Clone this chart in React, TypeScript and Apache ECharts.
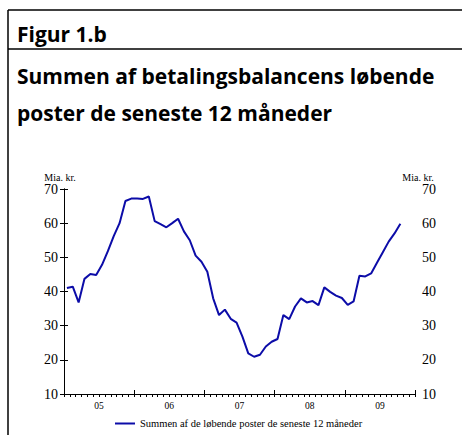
import React, { useEffect, useRef } from "react";
import * as echarts from "echarts";

const yearLabels = ["05", "06", "07", "08", "09"];
const monthCount = 60;
// Monthly values Jan 2005 - Oct 2009 (mia. kr.)
const values = [
  41.0, 41.4, 36.8, 43.7, 45.1, 44.8, 47.8, 51.8, 56.2, 60.0, 66.5, 67.2,
  67.2, 67.1, 67.8, 60.6, 59.7, 58.8, 60.0, 61.3, 57.6, 55.0, 50.5, 48.7,
  45.8, 38.0, 33.1, 34.7, 32.0, 30.9, 26.8, 21.9, 20.9, 21.5, 23.9, 25.3,
  26.1, 33.1, 31.9, 35.6, 38.0, 36.8, 37.2, 36.0, 41.2, 39.9, 38.8, 38.1,
  36.1, 37.1, 44.6, 44.4, 45.3, 48.4, 51.5, 54.6, 57.0, 59.8,
];
const seriesName = "Summen af de løbende poster de seneste 12 måneder";
const unitLabel = "Mia. kr.";
const figLabel = "Figur 1.b";
const titleLines = ["Summen af betalingsbalancens løbende", "poster de seneste 12 måneder"];

export default function App() {
  const ref = useRef<HTMLDivElement>(null);
  useEffect(() => {
    if (!ref.current) return;
    const chart = echarts.init(ref.current, null, { renderer: "svg" });
    const serif = "Liberation Serif";
    const sans = "Open Sans";
    const lineColor = "#0c0ca8";
    const axisBase = {
      min: 0,
      max: monthCount,
      type: "value" as const,
      splitLine: { show: false },
      axisLabel: { show: false },
    };
    chart.setOption({
      animation: false,
      backgroundColor: "#fff",
      grid: { left: 64, right: 47, top: 189, bottom: 41, containLabel: false },
      xAxis: [
        {
          ...axisBase,
          position: "bottom",
          interval: 12,
          axisLine: { show: true, onZero: false, lineStyle: { color: "#000", width: 1 } },
          axisTick: { show: true, inside: true, length: 4, lineStyle: { color: "#000" } },
        },
        {
          ...axisBase,
          position: "bottom",
          interval: 1,
          axisLine: { show: false, onZero: false },
          axisTick: { show: true, inside: false, length: 3, lineStyle: { color: "#000" } },
        },
        {
          type: "category",
          position: "bottom",
          data: yearLabels,
          boundaryGap: true,
          axisLine: { show: false, onZero: false },
          axisTick: { show: false },
          splitLine: { show: false },
          axisLabel: { color: "#000", fontFamily: serif, fontSize: 9.5, margin: 7 },
        },
      ],
      yAxis: [
        {
          type: "value",
          position: "left",
          min: 10,
          max: 70,
          interval: 10,
          axisLine: { show: true, lineStyle: { color: "#000", width: 1 } },
          axisTick: { show: true, inside: false, length: 4, lineStyle: { color: "#000" } },
          splitLine: { show: false },
          axisLabel: { color: "#000", fontFamily: serif, fontSize: 14, margin: 6 },
        },
        {
          type: "value",
          position: "right",
          min: 10,
          max: 70,
          interval: 10,
          axisLine: { show: true, lineStyle: { color: "#000", width: 1 } },
          axisTick: { show: true, inside: false, length: 4, lineStyle: { color: "#000" } },
          splitLine: { show: false },
          axisLabel: { color: "#000", fontFamily: serif, fontSize: 14, margin: 7 },
        },
      ],
      legend: {
        show: true,
        left: 110,
        top: 413,
        itemWidth: 20,
        itemHeight: 2,
        itemGap: 6,
        icon: "rect",
        textStyle: { color: "#000", fontFamily: serif, fontSize: 10.5 },
        data: [seriesName],
      },
      series: [
        {
          name: seriesName,
          type: "line",
          xAxisIndex: 0,
          yAxisIndex: 0,
          showSymbol: false,
          symbol: "none",
          lineStyle: { color: lineColor, width: 2 },
          itemStyle: { color: lineColor },
          data: values.map((v, i) => [i + 0.5, v]),
        },
      ],
      graphic: [
        { type: "line", shape: { x1: 8, y1: 10, x2: 462, y2: 10 }, style: { stroke: "#000", lineWidth: 1.5 } },
        { type: "line", shape: { x1: 8, y1: 10, x2: 8, y2: 435 }, style: { stroke: "#000", lineWidth: 1.5 } },
        { type: "line", shape: { x1: 8, y1: 49, x2: 462, y2: 49 }, style: { stroke: "#000", lineWidth: 1.5 } },
        {
          type: "text", x: 17, y: 34,
          style: { text: figLabel, fill: "#000", font: `bold 21px '${sans}'`, verticalAlign: "middle" },
        },
        {
          type: "text", x: 17, y: 76,
          style: { text: titleLines[0], fill: "#000", font: `bold 21px '${sans}'`, verticalAlign: "middle" },
        },
        {
          type: "text", x: 17, y: 113,
          style: { text: titleLines[1], fill: "#000", font: `bold 21px '${sans}'`, verticalAlign: "middle" },
        },
        {
          type: "text", x: 60, y: 177,
          style: { text: unitLabel, fill: "#000", font: `10px '${serif}'`, align: "center", verticalAlign: "middle" },
        },
        {
          type: "text", x: 418, y: 177,
          style: { text: unitLabel, fill: "#000", font: `10px '${serif}'`, align: "center", verticalAlign: "middle" },
        },
      ],
    });
    return () => chart.dispose();
  }, []);
  return (
    <div
      ref={ref}
      style={{ position: "fixed", left: 0, top: 0, width: 462, height: 435, background: "#fff" }}
    />
  );
}
